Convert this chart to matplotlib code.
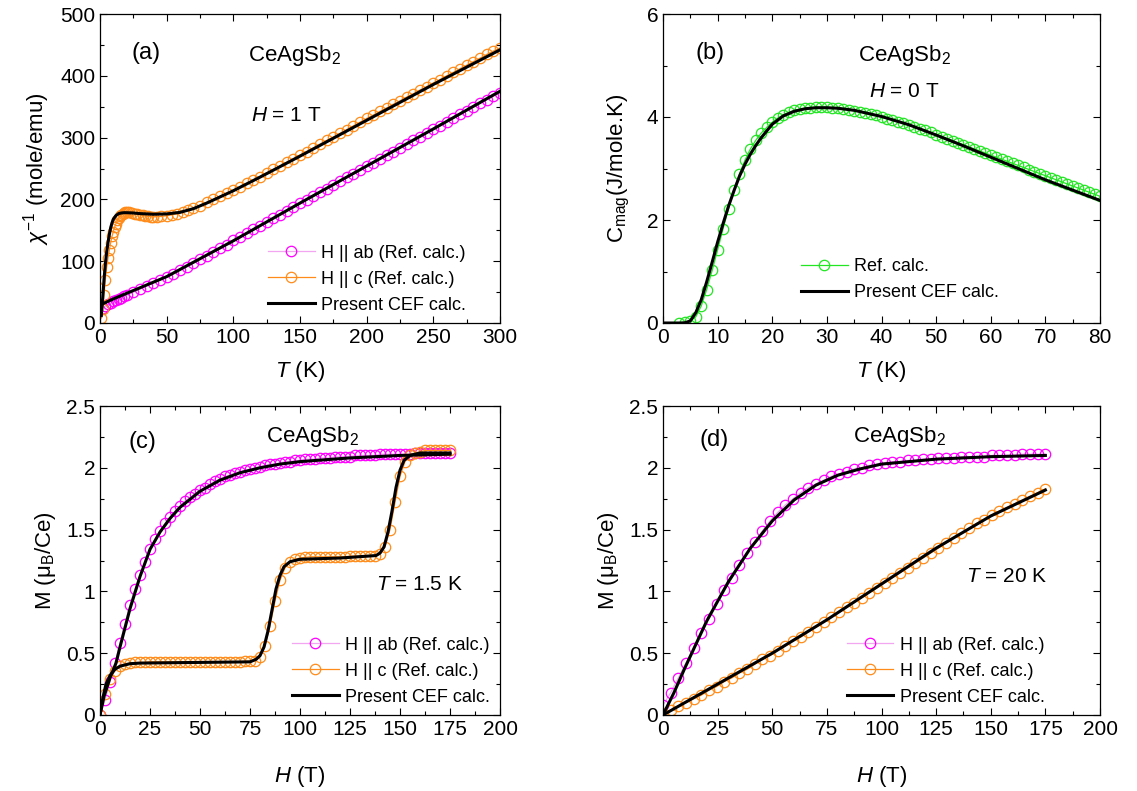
import matplotlib
matplotlib.use("Agg")
import matplotlib.pyplot as plt
from matplotlib.ticker import MultipleLocator, FormatStrFormatter

plt.rcParams['font.family'] = ['Liberation Sans', 'DejaVu Sans']
plt.rcParams['mathtext.fontset'] = 'custom'
plt.rcParams['mathtext.rm'] = 'Liberation Sans'
plt.rcParams['mathtext.it'] = 'Liberation Sans:italic'
plt.rcParams['mathtext.bf'] = 'Liberation Sans:bold'

# ---------------- Panel (a): inverse susceptibility ----------------
Ta_ab = [2, 4, 6, 8, 10, 12, 14, 16, 18, 20, 25, 30, 35, 40, 45, 50, 55, 60, 65, 70,
         75, 80, 85, 90, 95, 100, 105, 110, 115, 120, 125, 130, 135, 140, 145, 150,
         155, 160, 165, 170, 175, 180, 185, 190, 195, 200, 205, 210, 215, 220, 225,
         230, 235, 240, 245, 250, 255, 260, 265, 270, 275, 280, 285, 290, 295, 300]
chi_ab = [25, 27.5, 30, 32.5, 35, 37, 39, 41, 43, 45, 50, 55, 60, 65, 69.5, 74.5, 80,
          85.5, 91, 97, 103, 109, 115, 121, 127, 133.5, 139.5, 145.5, 151.5, 157.5,
          163.5, 169.5, 175.5, 181.5, 187.5, 193.5, 199.5, 205.5, 211.5, 217.5, 223.5,
          229.5, 235.5, 241.5, 247.5, 253.5, 259.5, 265.5, 271.5, 277.5, 283.5, 289.5,
          295.5, 301.5, 307.5, 313.5, 319.5, 325.5, 331.5, 337.5, 343.5, 349.5, 355.5,
          361.5, 367, 372.5]
Ta_c = [1, 2, 3, 4, 5, 6, 7, 8, 9, 10, 11, 12, 13, 14, 15, 16, 17, 18, 19, 20, 22, 24,
        26, 28, 30, 32, 34, 36, 38, 40, 43, 46, 50, 54, 58, 62, 66, 70, 75, 80, 85, 90,
        95, 100, 105, 110, 115, 120, 125, 130, 135, 140, 145, 150, 155, 160, 165, 170,
        175, 180, 185, 190, 195, 200, 205, 210, 215, 220, 225, 230, 235, 240, 245, 250,
        255, 260, 265, 270, 275, 280, 285, 290, 295, 300]
chi_c = [8, 22, 45, 70, 90, 105, 118, 130, 140, 148, 155, 161, 166, 170, 173, 175, 177,
         178, 179, 179.5, 179, 178, 177, 176, 175, 174, 173, 172.5, 172, 172, 172, 172.5,
         173.5, 175, 177, 179.5, 182.5, 185.5, 190, 195, 200, 205, 210, 215, 220.5, 226,
         231.5, 237, 243, 248.5, 254, 260, 266, 272, 277.5, 283.5, 289.5, 295.5, 301, 307,
         313, 319, 325, 331, 336.5, 342.5, 348, 354, 359.5, 365.5, 371, 377, 382.5, 388.5,
         394, 400, 405.5, 411.5, 417, 423, 428.5, 434.5, 440, 445]
Ta_cef_ab = [1, 5, 10, 20, 30, 50, 100, 150, 200, 250, 300]
chi_cef_ab = [30, 34, 39, 48, 57, 75, 133, 194, 254, 314, 375]
Ta_cef_c = [1, 2, 3, 4, 5, 6, 7, 8, 9, 10, 12, 14, 16, 18, 20, 25, 30, 40, 50, 60, 70,
            80, 90, 100, 120, 150, 200, 250, 300]
chi_cef_c = [12, 40, 70, 95, 115, 130, 143, 154, 162, 168, 174, 177, 178, 178.5, 178.5,
             178, 177, 176, 176.5, 179, 185, 194, 204, 214, 236, 270, 328, 386, 442]

# ---------------- Panel (b): magnetic specific heat ----------------
Tb = [3, 4, 5, 6, 7, 8, 9, 10, 11, 12, 13, 14, 15, 16, 17, 18, 19, 20, 21, 22, 23, 24,
      25, 26, 27, 28, 29, 30, 31, 32, 33, 34, 35, 36, 37, 38, 39, 40, 41, 42, 43, 44, 45,
      46, 47, 48, 49, 50, 51, 52, 53, 54, 55, 56, 57, 58, 59, 60, 61, 62, 63, 64, 65, 66,
      67, 68, 69, 70, 71, 72, 73, 74, 75, 76, 77, 78, 79, 80]
Cmag = [0.0, 0.01, 0.04, 0.12, 0.33, 0.65, 1.02, 1.42, 1.83, 2.22, 2.58, 2.90, 3.16,
        3.38, 3.55, 3.69, 3.80, 3.90, 3.98, 4.04, 4.09, 4.13, 4.15, 4.17, 4.18, 4.19,
        4.19, 4.19, 4.18, 4.17, 4.16, 4.14, 4.12, 4.10, 4.08, 4.06, 4.03, 4.00, 3.97,
        3.94, 3.91, 3.88, 3.85, 3.81, 3.77, 3.74, 3.70, 3.66, 3.62, 3.58, 3.54, 3.50,
        3.46, 3.42, 3.38, 3.34, 3.30, 3.26, 3.22, 3.18, 3.14, 3.10, 3.06, 3.02, 2.98,
        2.94, 2.90, 2.86, 2.82, 2.78, 2.74, 2.70, 2.66, 2.62, 2.58, 2.54, 2.50, 2.46]
Tb_cef = [0, 3, 4, 5, 6, 7, 8, 9, 10, 11, 12, 13, 14, 15, 16, 17, 18, 20, 22, 24, 26, 28,
          30, 32, 35, 40, 45, 50, 55, 60, 65, 70, 75, 80]
Cmag_cef = [0, 0, 0.005, 0.04, 0.2, 0.45, 0.8, 1.18, 1.57, 1.93, 2.27, 2.57, 2.85, 3.08,
            3.28, 3.45, 3.6, 3.86, 4.02, 4.11, 4.16, 4.18, 4.18, 4.17, 4.13, 4.01, 3.85,
            3.65, 3.44, 3.22, 3.0, 2.78, 2.58, 2.38]

# ---------------- Panel (c): M(H) at 1.5 K ----------------
Hc = [0, 2.5, 5, 7.5, 10, 12.5, 15, 17.5, 20, 22.5, 25, 27.5, 30, 32.5, 35, 37.5, 40,
      42.5, 45, 47.5, 50, 52.5, 55, 57.5, 60, 62.5, 65, 67.5, 70, 72.5, 75, 77.5, 80,
      82.5, 85, 87.5, 90, 92.5, 95, 97.5, 100, 102.5, 105, 107.5, 110, 112.5, 115, 117.5,
      120, 122.5, 125, 127.5, 130, 132.5, 135, 137.5, 140, 142.5, 145, 147.5, 150, 152.5,
      155, 157.5, 160, 162.5, 165, 167.5, 170, 172.5, 175]
Mc_ab = [0.0, 0.12, 0.27, 0.42, 0.58, 0.74, 0.89, 1.02, 1.13, 1.24, 1.34, 1.42, 1.49,
         1.55, 1.60, 1.65, 1.69, 1.73, 1.76, 1.79, 1.82, 1.84, 1.87, 1.89, 1.91, 1.93,
         1.94, 1.96, 1.97, 1.98, 1.99, 2.00, 2.01, 2.02, 2.03, 2.03, 2.04, 2.05, 2.05,
         2.06, 2.06, 2.07, 2.07, 2.07, 2.08, 2.08, 2.08, 2.09, 2.09, 2.09, 2.09, 2.10,
         2.10, 2.10, 2.10, 2.10, 2.11, 2.11, 2.11, 2.11, 2.11, 2.11, 2.11, 2.12, 2.12,
         2.12, 2.12, 2.12, 2.12, 2.12, 2.12]
Mc_c = [0.0, 0.17, 0.29, 0.36, 0.40, 0.415, 0.42, 0.425, 0.425, 0.425, 0.43, 0.43, 0.43,
        0.43, 0.43, 0.43, 0.43, 0.43, 0.43, 0.43, 0.43, 0.43, 0.43, 0.43, 0.43, 0.43,
        0.43, 0.43, 0.43, 0.435, 0.435, 0.44, 0.47, 0.56, 0.72, 0.92, 1.09, 1.19, 1.24,
        1.26, 1.27, 1.275, 1.28, 1.28, 1.28, 1.28, 1.28, 1.28, 1.28, 1.28, 1.285, 1.285,
        1.285, 1.29, 1.29, 1.29, 1.30, 1.36, 1.50, 1.72, 1.93, 2.05, 2.10, 2.12, 2.13,
        2.14, 2.14, 2.14, 2.14, 2.14, 2.14]
Hc_cef_ab = [0, 2, 5, 8, 10, 15, 20, 25, 30, 35, 40, 50, 60, 70, 80, 90, 100, 125, 150, 175]
Mc_cef_ab = [0, 0.15, 0.3, 0.42, 0.55, 0.86, 1.12, 1.34, 1.48, 1.59, 1.68, 1.81, 1.9,
             1.96, 2.0, 2.03, 2.05, 2.08, 2.1, 2.11]
Hc_cef_c = [0, 1, 2, 3, 5, 7.5, 10, 15, 20, 75, 78, 80, 82, 84, 86, 88, 90, 92, 95, 100,
            120, 138, 140, 142, 144, 146, 148, 150, 152, 155, 160, 175]
Mc_cef_c = [0, 0.1, 0.18, 0.25, 0.32, 0.37, 0.395, 0.415, 0.42, 0.43, 0.45, 0.48, 0.55,
            0.68, 0.85, 1.02, 1.13, 1.2, 1.24, 1.26, 1.27, 1.29, 1.31, 1.36, 1.48, 1.65,
            1.84, 1.98, 2.06, 2.1, 2.12, 2.12]

# ---------------- Panel (d): M(H) at 20 K ----------------
Hd = [0, 3.5, 7, 10.5, 14, 17.5, 21, 24.5, 28, 31.5, 35, 38.5, 42, 45.5, 49, 52.5, 56,
      59.5, 63, 66.5, 70, 73.5, 77, 80.5, 84, 87.5, 91, 94.5, 98, 101.5, 105, 108.5, 112,
      115.5, 119, 122.5, 126, 129.5, 133, 136.5, 140, 143.5, 147, 150.5, 154, 157.5, 161,
      164.5, 168, 171.5, 175]
Md_ab = [0.08, 0.18, 0.3, 0.42, 0.54, 0.66, 0.78, 0.9, 1.01, 1.11, 1.21, 1.31, 1.4, 1.49,
         1.57, 1.64, 1.7, 1.75, 1.8, 1.84, 1.87, 1.9, 1.93, 1.95, 1.97, 1.99, 2.0, 2.02,
         2.03, 2.04, 2.05, 2.05, 2.06, 2.06, 2.07, 2.07, 2.08, 2.08, 2.08, 2.09, 2.09,
         2.09, 2.09, 2.1, 2.1, 2.1, 2.1, 2.11, 2.11, 2.11, 2.11]
Md_c = [0.02, 0.04, 0.07, 0.1, 0.13, 0.16, 0.2, 0.23, 0.27, 0.3, 0.34, 0.37, 0.41, 0.45,
        0.48, 0.52, 0.56, 0.6, 0.63, 0.67, 0.71, 0.75, 0.79, 0.83, 0.87, 0.91, 0.95, 0.99,
        1.03, 1.07, 1.11, 1.15, 1.19, 1.23, 1.27, 1.31, 1.35, 1.39, 1.43, 1.47, 1.51,
        1.55, 1.58, 1.62, 1.65, 1.68, 1.71, 1.74, 1.77, 1.8, 1.83]
Hd_cef = [0, 5, 10, 20, 30, 40, 50, 60, 70, 80, 90, 100, 125, 150, 175]
Md_cef_ab = [0.0, 0.18, 0.38, 0.76, 1.08, 1.35, 1.57, 1.74, 1.86, 1.94, 1.99, 2.03,
             2.07, 2.09, 2.1]
Hd_cef_c = [0, 25, 50, 75, 100, 125, 150, 175]
Md_cef_c = [0, 0.25, 0.5, 0.77, 1.06, 1.35, 1.61, 1.82]

# ---------------- styling ----------------
MAG = '#FF00FF'
MAG_L = '#F2A6F2'
ORA = '#FF8C1A'
GRN = '#22E622'
MS = 7.5
TICK_FS = 15
LAB_FS = 16
LEG_FS = 13

fig = plt.figure(figsize=(11.37, 7.91), dpi=100)
WL = 400 / 1137
WR = 437 / 1137
Hh = 309 / 791
ax_a = fig.add_axes([100 / 1137, (791 - 323) / 791, WL, Hh])
ax_b = fig.add_axes([663 / 1137, (791 - 323) / 791, WR, Hh])
ax_c = fig.add_axes([100 / 1137, (791 - 715) / 791, WL, Hh])
ax_d = fig.add_axes([663 / 1137, (791 - 715) / 791, WR, Hh])


def style(ax, xmaj, xmin, ymaj, ymin):
    ax.xaxis.set_major_locator(MultipleLocator(xmaj))
    ax.xaxis.set_minor_locator(MultipleLocator(xmin))
    ax.yaxis.set_major_locator(MultipleLocator(ymaj))
    ax.yaxis.set_minor_locator(MultipleLocator(ymin))
    ax.tick_params(which='both', direction='in', top=True, right=True,
                   labelsize=TICK_FS, width=0.8)
    ax.tick_params(which='major', length=5)
    ax.tick_params(which='minor', length=3)
    for s in ax.spines.values():
        s.set_linewidth(0.9)


def data(ax, x, y, edge, line, label):
    ax.plot(x, y, '-o', color=line, lw=0.9, ms=MS, mfc='none', mec=edge, mew=0.9,
            label=label)


def cef(ax, x, y, label=None):
    ax.plot(x, y, '-', color='black', lw=2.2, label=label, zorder=5)


def legend(ax, x0, y0):
    ax.legend(loc='lower left', bbox_to_anchor=(x0, y0), frameon=False,
              fontsize=LEG_FS, handlelength=2.6, handletextpad=0.35,
              labelspacing=0.5, borderpad=0, borderaxespad=0, markerscale=1.0)


# (a)
data(ax_a, Ta_ab, chi_ab, MAG, MAG_L, 'H || ab (Ref. calc.)')
data(ax_a, Ta_c, chi_c, ORA, ORA, 'H || c (Ref. calc.)')
cef(ax_a, Ta_cef_ab, chi_cef_ab, 'Present CEF calc.')
cef(ax_a, Ta_cef_c, chi_cef_c)
ax_a.set_xlim(0, 300)
ax_a.set_ylim(0, 500)
style(ax_a, 50, 25, 100, 50)
ax_a.set_xlabel('$T$ (K)', fontsize=LAB_FS, labelpad=9)
ax_a.set_ylabel('$\\chi^{-1}$ (mole/emu)', fontsize=LAB_FS, labelpad=6)
ax_a.text(0.115, 0.873, '(a)', transform=ax_a.transAxes, fontsize=17,
          ha='center', va='center')
ax_a.text(0.485, 0.867, 'CeAgSb$_2$', transform=ax_a.transAxes, fontsize=16,
          ha='center', va='center')
ax_a.text(0.465, 0.673, '$H$ = 1 T', transform=ax_a.transAxes, fontsize=15,
          ha='center', va='center')
legend(ax_a, 0.42, 0.03)

# (b)
data(ax_b, Tb, Cmag, GRN, GRN, 'Ref. calc.')
cef(ax_b, Tb_cef, Cmag_cef, 'Present CEF calc.')
ax_b.set_xlim(0, 80)
ax_b.set_ylim(0, 6)
style(ax_b, 10, 5, 2, 1)
ax_b.set_xlabel('$T$ (K)', fontsize=LAB_FS, labelpad=9)
ax_b.set_ylabel('C$_\\mathrm{mag}$(J/mole.K)', fontsize=LAB_FS, labelpad=10)
ax_b.text(0.108, 0.873, '(b)', transform=ax_b.transAxes, fontsize=17,
          ha='center', va='center')
ax_b.text(0.553, 0.867, 'CeAgSb$_2$', transform=ax_b.transAxes, fontsize=16,
          ha='center', va='center')
ax_b.text(0.553, 0.748, '$H$ = 0 T', transform=ax_b.transAxes, fontsize=15,
          ha='center', va='center')
legend(ax_b, 0.315, 0.07)

# (c)
data(ax_c, Hc, Mc_ab, MAG, MAG_L, 'H || ab (Ref. calc.)')
data(ax_c, Hc, Mc_c, ORA, ORA, 'H || c (Ref. calc.)')
cef(ax_c, Hc_cef_ab, Mc_cef_ab, 'Present CEF calc.')
cef(ax_c, Hc_cef_c, Mc_cef_c)
ax_c.set_xlim(0, 200)
ax_c.set_ylim(0, 2.5)
style(ax_c, 25, 12.5, 0.5, 0.25)
ax_c.yaxis.set_major_formatter(FormatStrFormatter('%g'))
ax_c.set_xlabel('$H$ (T)', fontsize=LAB_FS, labelpad=18)
ax_c.set_ylabel('M (μ$_\\mathrm{B}$/Ce)', fontsize=LAB_FS, labelpad=6)
ax_c.text(0.105, 0.885, '(c)', transform=ax_c.transAxes, fontsize=17,
          ha='center', va='center')
ax_c.text(0.53, 0.901, 'CeAgSb$_2$', transform=ax_c.transAxes, fontsize=16,
          ha='center', va='center')
ax_c.text(0.80, 0.421, '$T$ = 1.5 K', transform=ax_c.transAxes, fontsize=15,
          ha='center', va='center')
legend(ax_c, 0.48, 0.03)

# (d)
data(ax_d, Hd, Md_ab, MAG, MAG_L, 'H || ab (Ref. calc.)')
data(ax_d, Hd, Md_c, ORA, ORA, 'H || c (Ref. calc.)')
cef(ax_d, Hd_cef, Md_cef_ab, 'Present CEF calc.')
cef(ax_d, Hd_cef_c, Md_cef_c)
ax_d.set_xlim(0, 200)
ax_d.set_ylim(0, 2.5)
style(ax_d, 25, 12.5, 0.5, 0.25)
ax_d.yaxis.set_major_formatter(FormatStrFormatter('%g'))
ax_d.set_xlabel('$H$ (T)', fontsize=LAB_FS, labelpad=18)
ax_d.set_ylabel('M (μ$_\\mathrm{B}$/Ce)', fontsize=LAB_FS, labelpad=6)
ax_d.text(0.116, 0.89, '(d)', transform=ax_d.transAxes, fontsize=17,
          ha='center', va='center')
ax_d.text(0.541, 0.901, 'CeAgSb$_2$', transform=ax_d.transAxes, fontsize=16,
          ha='center', va='center')
ax_d.text(0.786, 0.448, '$T$ = 20 K', transform=ax_d.transAxes, fontsize=15,
          ha='center', va='center')
legend(ax_d, 0.42, 0.03)

fig.savefig('out.png', dpi=100)
